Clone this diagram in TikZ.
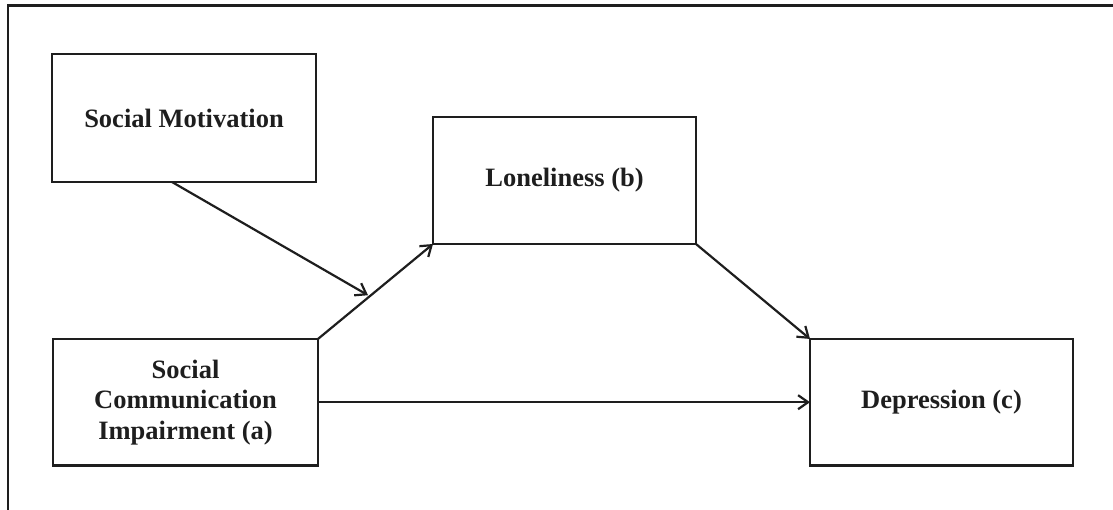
\documentclass[tikz,border=0pt]{standalone}
\usepackage{fontspec}
\setmainfont{Liberation Serif}
\usetikzlibrary{arrows.meta,calc}
\definecolor{ink}{HTML}{1E1E1E}
\tikzset{
  box/.style={draw=ink, line width=2.4pt, inner sep=0pt, outer sep=0pt, align=center,
    font=\fontsize{26.5}{30.5}\selectfont\bfseries, text=ink},
  arr/.style={draw=ink, line width=2.2pt, -{Straight Barb[length=10pt,width=14pt,line width=2.2pt]}},
  frame/.style={draw=ink, line width=2.4pt}
}
\begin{document}
\begin{tikzpicture}[x=1pt,y=-1pt]
\useasboundingbox (0,0) rectangle (1113,510);
\draw[frame] (7.7,511) -- (7.7,5.7) -- (1114,5.7);
\node[box, minimum width=264pt, minimum height=128pt] (sm) at (184,118) {Social Motivation};
\node[box, minimum width=263pt, minimum height=127pt] (lon) at (564.5,180.5) {Loneliness (b)};
\node[box, minimum width=265pt, minimum height=126.5pt] (sci) at (185.5,402.2) {Social\\Communication\\Impairment (a)};
\node[box, minimum width=263pt, minimum height=126.5pt] (dep) at (941.5,402.2) {Depression (c)};
\draw[arr] (sci.north east) -- coordinate[pos=0.45] (mid) (lon.south west);
\coordinate (smout) at ($(sm.south)+(-12,0)$);
\draw[arr, shorten >=2pt] (smout) -- (mid);
\draw[arr] (lon.south east) -- (dep.north west);
\draw[arr] (sci.east) -- (dep.west);
\end{tikzpicture}
\end{document}
